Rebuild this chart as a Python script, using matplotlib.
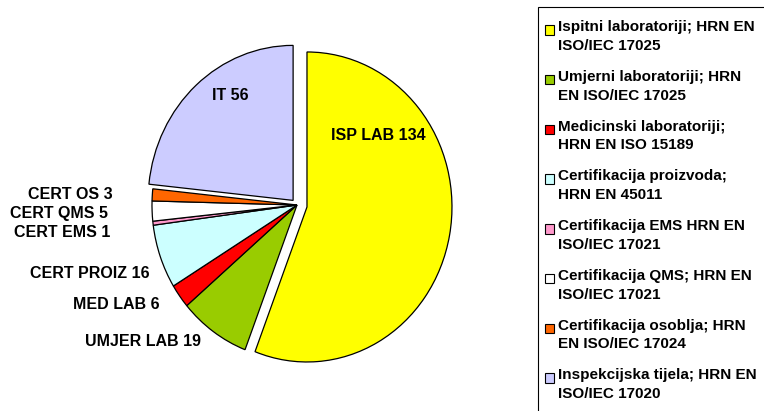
import matplotlib.pyplot as plt
from matplotlib.patches import Patch, Rectangle
from matplotlib.legend_handler import HandlerPatch

# podaci
kratice = ["ISP LAB", "UMJER LAB", "MED LAB", "CERT PROIZ", "CERT EMS", "CERT QMS", "CERT OS", "IT"]
vrijednosti = [134, 19, 6, 16, 1, 5, 3, 56]
legenda = [
    "Ispitni laboratoriji; HRN EN\nISO/IEC 17025",
    "Umjerni laboratoriji; HRN\nEN ISO/IEC 17025",
    "Medicinski laboratoriji;\nHRN EN ISO 15189",
    "Certifikacija proizvoda;\nHRN EN 45011",
    "Certifikacija EMS HRN EN\nISO/IEC 17021",
    "Certifikacija QMS; HRN EN\nISO/IEC 17021",
    "Certifikacija osoblja; HRN\nEN ISO/IEC 17024",
    "Inspekcijska tijela; HRN EN\nISO/IEC 17020",
]
boje = ["#FFFF00", "#99CC00", "#FF0000", "#CCFFFF", "#FF99CC", "#FFFFFF", "#FF6600", "#CCCCFF"]
razmak = [0.07, 0, 0, 0, 0, 0, 0, 0.04]

# položaji natpisa u pikselima (x, y od vrha) i poravnanje
polozaji = [(378, 135, "center"), (201, 341, "right"), (160, 304, "right"), (150, 273, "right"),
            (110, 232, "right"), (108, 213, "right"), (113, 194, "right"), (230, 96, "center")]

plt.rcParams["font.family"] = ["Liberation Sans", "DejaVu Sans"]
plt.rcParams["font.weight"] = "bold"

W, H = 764, 411
fig = plt.figure(figsize=(W / 100, H / 100), dpi=100)

# pita: sredina (297, 205) px, polumjer ~145 px vodoravno, ~155 px okomito
cx, cy, rx, ry = 297, 205, 145, 155
lim = 1.3
ax = fig.add_axes([(cx - lim * rx) / W, (H - cy - lim * ry) / H, 2 * lim * rx / W, 2 * lim * ry / H])
ax.pie(vrijednosti, colors=boje, explode=razmak, startangle=90, counterclock=False,
       wedgeprops=dict(edgecolor="black", linewidth=0.9))
ax.set_xlim(-lim, lim)
ax.set_ylim(-lim, lim)
ax.set_aspect("auto")
ax.axis("off")

for k, v, (px, py, ha) in zip(kratice, vrijednosti, polozaji):
    fig.text(px / W, 1 - py / H, f"{k} {v}", ha=ha, va="center", fontsize=11.5, fontweight="bold")

# okvir legende (izlazi preko desnog i donjeg ruba)
fig.patches.append(Rectangle((538 / W, -0.1), 0.5, 1.1 - 7 / H, transform=fig.transFigure,
                             facecolor="white", edgecolor="black", linewidth=0.8, zorder=0))


# kvadratić poravnat s prvim redom teksta
def kvadrat(legend, orig_handle, xdescent, ydescent, width, height, fontsize):
    return Rectangle((-xdescent, -ydescent + height - width), width, width)


rucke = [Patch(facecolor=b, edgecolor="black", linewidth=0.8) for b in boje]
leg = fig.legend(rucke, legenda, loc="upper left", bbox_to_anchor=(545 / W, 1 - 20 / H),
                 fontsize=11, frameon=False,
                 handlelength=0.62, handleheight=2.05, handletextpad=0.2,
                 labelspacing=1.1, borderpad=0, borderaxespad=0,
                 handler_map={Patch: HandlerPatch(patch_func=kvadrat)})
for t in leg.get_texts():
    t.set_linespacing(1.45)

fig.savefig("out.png", dpi=100)
